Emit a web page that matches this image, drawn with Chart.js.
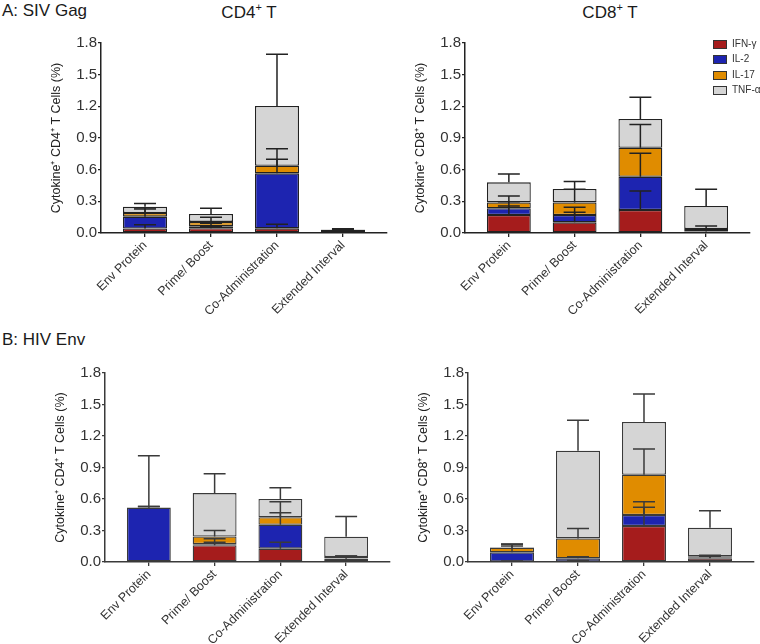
<!DOCTYPE html>
<html><head><meta charset="utf-8">
<script src="https://cdn.jsdelivr.net/npm/chart.js@4.4.1/dist/chart.umd.min.js"></script>
<style>
body{margin:0;background:#fff;font-family:"Liberation Sans",Arial,sans-serif;color:#222;}
#page{position:relative;width:760px;height:644px;overflow:hidden;background:#fff;}
.box{position:absolute;}
.lbl{position:absolute;font-size:17px;line-height:17px;white-space:nowrap;color:#1a1a1a;}
.ctr{transform:translateX(-50%);}
.lbl sup{font-size:11px;position:relative;top:-7px;vertical-align:baseline;}
.leg{position:absolute;left:713px;font-size:10px;line-height:10px;color:#333;white-space:nowrap;}
.leg i{position:absolute;left:0;top:0;width:12px;height:7px;border:1px solid #333;}
.leg span{position:absolute;left:19px;top:-1px;}
</style></head><body>
<div id="page">
  <div class="lbl" style="left:2px;top:2px">A: SIV Gag</div>
  <div class="lbl ctr" style="left:249px;top:4px">CD4<sup>+</sup> T</div>
  <div class="lbl ctr" style="left:610px;top:4px">CD8<sup>+</sup> T</div>
  <div class="lbl" style="left:2px;top:331px">B: HIV Env</div>
  <div class="box" id="wA1"><canvas id="cA1"></canvas></div>
  <div class="box" id="wA2"><canvas id="cA2"></canvas></div>
  <div class="box" id="wB1"><canvas id="cB1"></canvas></div>
  <div class="box" id="wB2"><canvas id="cB2"></canvas></div>
  <div id="legend"></div>
</div>
<script>
// ---- data ----
const categories = ["Env Protein", "Prime/ Boost", "Co-Administration", "Extended Interval"];
const seriesNames = ["IFN-\u03b3", "IL-2", "IL-17", "TNF-\u03b1"];
const seriesColors = ["#a51c1c", "#1d24b0", "#e08c00", "#d5d5d5"];
const yTicks = [0, 0.3, 0.6, 0.9, 1.2, 1.5, 1.8];

// A: SIV Gag, CD4+ T  (segment heights, bottom to top)
const gagCD4_IFN  = [0.043, 0.045, 0.044, 0.005];
const gagCD4_IL2  = [0.112, 0.020, 0.521, 0.025];
const gagCD4_IL17 = [0.035, 0.040, 0.072, 0.001];
const gagCD4_TNF  = [0.058, 0.075, 0.566, 0.002];
const gagCD4_IFN_err  = [0.035, 0.020, 0.038, 0.005];
const gagCD4_IL2_err  = [0.072, 0.027, 0.133, 0.008];
const gagCD4_IL17_err = [0.050, 0.044, 0.160, 0.008];
const gagCD4_TNF_err  = [0.032, 0.054, 0.490, 0.006];

// A: SIV Gag, CD8+ T
const gagCD8_IFN  = [0.170, 0.101, 0.218, 0.015];
const gagCD8_IL2  = [0.064, 0.069, 0.315, 0.005];
const gagCD8_IL17 = [0.056, 0.120, 0.275, 0.018];
const gagCD8_TNF  = [0.190, 0.127, 0.272, 0.218];
const gagCD8_IFN_err  = [0.086, 0.095, 0.180, 0.010];
const gagCD8_IL2_err  = [0.063, 0.073, 0.222, 0.010];
const gagCD8_IL17_err = [0.060, 0.124, 0.220, 0.028];
const gagCD8_TNF_err  = [0.080, 0.070, 0.206, 0.158];

// B: HIV Env, CD4+ T
const envCD4_IFN  = [0.000, 0.160, 0.127, 0.030];
const envCD4_IL2  = [0.518, 0.010, 0.228, 0.005];
const envCD4_IL17 = [0.000, 0.073, 0.071, 0.012];
const envCD4_TNF  = [0.000, 0.413, 0.174, 0.194];
const envCD4_IFN_err  = [0.000, 0.027, 0.060, 0.025];
const envCD4_IL2_err  = [0.495, 0.052, 0.115, 0.020];
const envCD4_IL17_err = [0.010, 0.057, 0.148, 0.010];
const envCD4_TNF_err  = [0.010, 0.184, 0.108, 0.192];

// B: HIV Env, CD8+ T
const envCD8_IFN  = [0.005, 0.005, 0.343, 0.035];
const envCD8_IL2  = [0.087, 0.030, 0.105, 0.005];
const envCD8_IL17 = [0.045, 0.190, 0.383, 0.015];
const envCD8_TNF  = [0.003, 0.834, 0.502, 0.272];
const envCD8_IFN_err  = [0.005, 0.010, 0.178, 0.020];
const envCD8_IL2_err  = [0.060, 0.015, 0.126, 0.020];
const envCD8_IL17_err = [0.035, 0.095, 0.245, 0.010];
const envCD8_TNF_err  = [0.030, 0.290, 0.267, 0.160];

// ---- error bar plugin (uses the chart's own scales) ----
const errorBars = {
  id: 'errorBars',
  afterDatasetsDraw(chart, args, opts) {
    const ctx = chart.ctx, ys = chart.scales.y;
    ctx.save();
    ctx.strokeStyle = opts.color; ctx.lineWidth = opts.width; ctx.lineCap = 'butt';
    chart.data.datasets.forEach((ds, d) => {
      const meta = chart.getDatasetMeta(d);
      meta.data.forEach((bar, i) => {
        const e = opts.errors[d][i];
        if (!e) return;
        let top = 0;
        for (let k = 0; k <= d; k++) top += chart.data.datasets[k].data[i].y;
        const y0 = ys.getPixelForValue(top), y1 = ys.getPixelForValue(top + e);
        const hw = bar.width / 4;
        ctx.beginPath();
        ctx.moveTo(bar.x, y0); ctx.lineTo(bar.x, y1);
        ctx.moveTo(bar.x - hw, y1); ctx.lineTo(bar.x + hw, y1);
        ctx.stroke();
      });
    });
    ctx.restore();
  }
};

const FONT = "'Liberation Sans', Arial, sans-serif";
const Y_AXIS_W = 56;

function makeChart(id, box, area, vals, errs, yTitle, ink) {
  const wrap = document.getElementById('w' + id);
  Object.assign(wrap.style, {left: box.l + 'px', top: box.t + 'px', width: box.w + 'px', height: box.h + 'px'});
  const xAxisH = box.t + box.h - area.b;
  const pad = {
    left: area.l - box.l - Y_AXIS_W,
    top: area.t - box.t,
    right: box.l + box.w - area.r,
    bottom: 0
  };
  new Chart(document.getElementById('c' + id), {
    type: 'bar',
    data: {
      datasets: seriesNames.map((n, k) => ({
        label: n,
        data: vals[k].map((v, i) => ({x: i, y: v})),
        backgroundColor: seriesColors[k],
        borderColor: ink,
        borderWidth: 1.3,
        borderSkipped: false,
        categoryPercentage: 1,
        barPercentage: 0.667
      }))
    },
    options: {
      responsive: true, maintainAspectRatio: false, animation: false,
      layout: {padding: pad},
      plugins: {legend: {display: false}, tooltip: {enabled: false},
        errorBars: {errors: errs, color: ink, width: 1.5}},
      scales: {
        x: {
          type: 'linear', stacked: true, min: -0.667, max: 3.667, offset: false,
          afterBuildTicks: s => { s.ticks = categories.map((c, i) => ({value: i})); },
          afterFit: s => { s.height = xAxisH; },
          ticks: {autoSkip: false, minRotation: 45, maxRotation: 45, padding: 1, color: '#333',
            font: {family: FONT, size: 12.5}, callback: v => categories[v]},
          grid: {offset: false, drawOnChartArea: false, drawTicks: true, tickLength: 4, color: ink, lineWidth: 1.3},
          border: {color: ink, width: 1.5}
        },
        y: {
          stacked: true, min: 0, max: 1.8,
          afterBuildTicks: s => { s.ticks = yTicks.map(v => ({value: v})); },
          afterFit: s => { s.width = Y_AXIS_W; },
          ticks: {padding: 1, color: '#333', font: {family: FONT, size: 15}, callback: v => v.toFixed(1)},
          grid: {drawOnChartArea: false, drawTicks: true, tickLength: 3, color: ink, lineWidth: 1.3},
          border: {color: ink, width: 1.5},
          title: {display: true, text: yTitle, color: '#222', font: {family: FONT, size: 12.5}, padding: {top: 4, bottom: 4}}
        }
      }
    },
    plugins: [errorBars]
  });
}

const cd4Title = 'Cytokine\u207a CD4\u207a T Cells (%)';
const cd8Title = 'Cytokine\u207a CD8\u207a T Cells (%)';

makeChart('A1', {l: 40, t: 20, w: 360, h: 300}, {l: 101, t: 43, r: 387, b: 233},
  [gagCD4_IFN, gagCD4_IL2, gagCD4_IL17, gagCD4_TNF],
  [gagCD4_IFN_err, gagCD4_IL2_err, gagCD4_IL17_err, gagCD4_TNF_err], cd4Title, '#222');
makeChart('A2', {l: 400, t: 20, w: 360, h: 300}, {l: 465, t: 43, r: 750, b: 233},
  [gagCD8_IFN, gagCD8_IL2, gagCD8_IL17, gagCD8_TNF],
  [gagCD8_IFN_err, gagCD8_IL2_err, gagCD8_IL17_err, gagCD8_TNF_err], cd8Title, '#222');
makeChart('B1', {l: 40, t: 350, w: 360, h: 294}, {l: 105, t: 373, r: 390, b: 562},
  [envCD4_IFN, envCD4_IL2, envCD4_IL17, envCD4_TNF],
  [envCD4_IFN_err, envCD4_IL2_err, envCD4_IL17_err, envCD4_TNF_err], cd4Title, '#3a3a3a');
makeChart('B2', {l: 400, t: 350, w: 360, h: 294}, {l: 468, t: 373, r: 754, b: 562},
  [envCD8_IFN, envCD8_IL2, envCD8_IL17, envCD8_TNF],
  [envCD8_IFN_err, envCD8_IL2_err, envCD8_IL17_err, envCD8_TNF_err], cd8Title, '#3a3a3a');

// legend (HTML text)
const legTops = [40, 55, 71, 86];
document.getElementById('legend').innerHTML = seriesNames.map((n, k) =>
  `<div class="leg" style="top:${legTops[k]}px"><i style="background:${seriesColors[k]}"></i><span>${n}</span></div>`).join('');
</script>
</body></html>
